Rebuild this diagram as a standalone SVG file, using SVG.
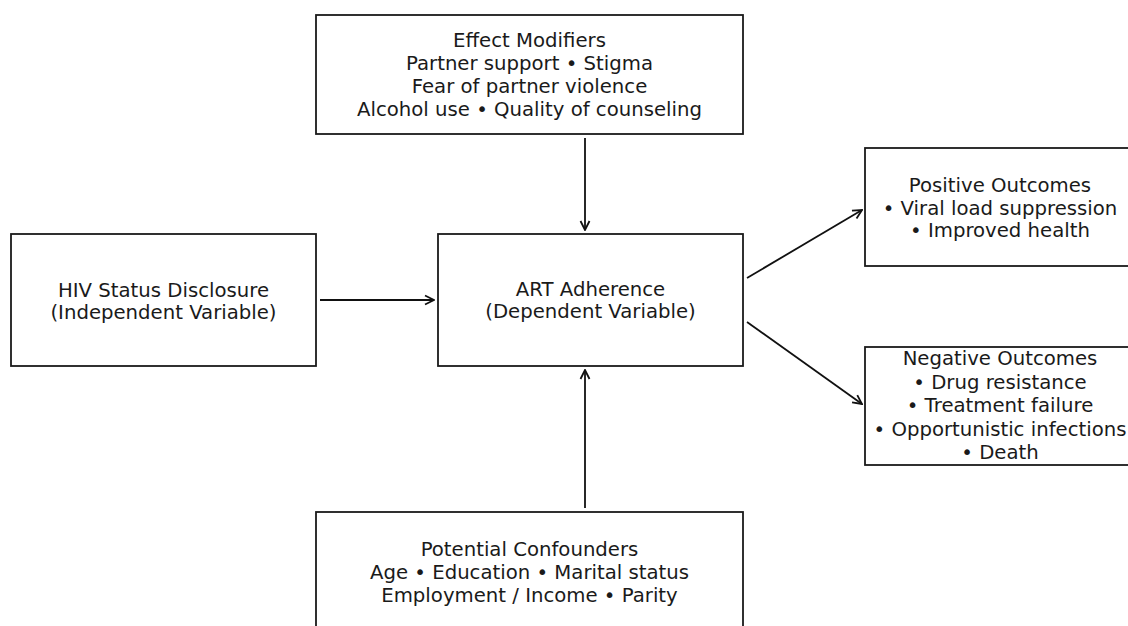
<svg xmlns="http://www.w3.org/2000/svg" width="1128" height="626" viewBox="0 0 1128 626">
<style>
.box{fill:#fff;stroke:#1a1a1a;stroke-width:1.8}
text{font-family:"DejaVu Sans",sans-serif;font-size:19.7px;fill:#1a1a1a;text-anchor:middle}
.c{stroke:#111;stroke-width:1.8;fill:none;marker-end:url(#ah)}
</style>
<defs>
<marker id="ah" viewBox="0 0 12 12" refX="11" refY="6" markerWidth="12" markerHeight="12" markerUnits="userSpaceOnUse" orient="auto">
<path d="M2,1.5 L11,6 L2,10.5" fill="none" stroke="#111" stroke-width="1.8"/>
</marker>
</defs>
<rect width="1128" height="626" fill="#fff"/>
<g id="connectors">
<line class="c" x1="320" y1="300" x2="434" y2="300"/>
<line class="c" x1="585" y1="138" x2="585" y2="230"/>
<line class="c" x1="585" y1="508" x2="585" y2="370"/>
<line class="c" x1="747" y1="278" x2="862" y2="210"/>
<line class="c" x1="747" y1="322" x2="862" y2="404"/>
</g>
<g id="effect-modifiers">
<rect class="box" x="316" y="15" width="427" height="119"/>
<text x="529.5" y="47">Effect Modifiers</text>
<text x="529.5" y="70">Partner support • Stigma</text>
<text x="529.5" y="93">Fear of partner violence</text>
<text x="529.5" y="116">Alcohol use • Quality of counseling</text>
</g>
<g id="hiv-disclosure">
<rect class="box" x="11" y="234" width="305" height="132"/>
<text x="163.5" y="296.5">HIV Status Disclosure</text>
<text x="163.5" y="318.5">(Independent Variable)</text>
</g>
<g id="art-adherence">
<rect class="box" x="438" y="234" width="305" height="132"/>
<text x="590.5" y="295.5">ART Adherence</text>
<text x="590.5" y="317.5">(Dependent Variable)</text>
</g>
<g id="positive-outcomes">
<rect class="box" x="865" y="148" width="280" height="118"/>
<text x="1000" y="191.5">Positive Outcomes</text>
<text x="1000" y="214.5">• Viral load suppression</text>
<text x="1000" y="236.5">• Improved health</text>
</g>
<g id="negative-outcomes">
<rect class="box" x="865" y="347" width="280" height="118"/>
<text x="1000" y="364.5">Negative Outcomes</text>
<text x="1000" y="388.5">• Drug resistance</text>
<text x="1000" y="411.5">• Treatment failure</text>
<text x="1000" y="435.5">• Opportunistic infections</text>
<text x="1000" y="458.5">• Death</text>
</g>
<g id="confounders">
<rect class="box" x="316" y="512" width="427" height="130"/>
<text x="529.5" y="555.5">Potential Confounders</text>
<text x="529.5" y="578.5">Age • Education • Marital status</text>
<text x="529.5" y="601.5">Employment / Income • Parity</text>
</g>
</svg>
